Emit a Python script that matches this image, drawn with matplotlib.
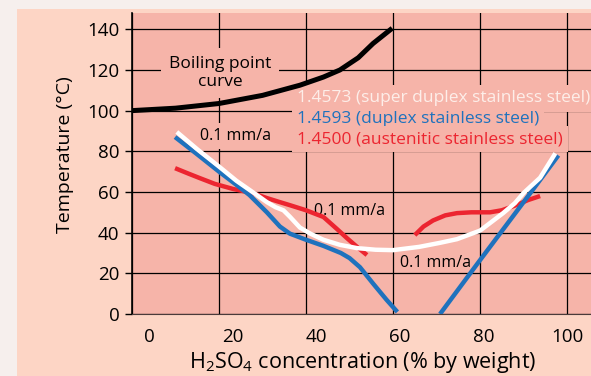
# Corrosion resistance of stainless steels in sulphuric acid (iso-corrosion 0.1 mm/a)
import matplotlib.pyplot as plt
import matplotlib.transforms as mtransforms
from matplotlib.patches import Rectangle

plt.rcParams['font.family'] = ['Open Sans', 'DejaVu Sans']
plt.rcParams['mathtext.default'] = 'regular'

# data
boil_x = [0, 10, 20, 30, 38.6, 44, 47.8, 52, 55.4, 59.8]
boil_y = [100, 101.2, 103.5, 107.5, 112.5, 116.5, 120, 126, 133, 140.5]

duplex_l_x = [9.9, 15, 20, 24, 27, 31, 34, 36.3, 40, 44, 48, 50, 52.4, 55.4, 58.5, 61]
duplex_l_y = [87, 78.5, 70, 63.5, 58.5, 50, 43, 39.5, 36.5, 33.5, 30, 27.5, 23, 15, 7, 1]
duplex_r_x = [70.8, 80, 90, 98]
duplex_r_y = [0, 26.5, 55, 78]

super_x = [10.3, 15, 20, 24, 28.7, 31, 33, 34.8, 36.3, 38.6, 41, 44, 47.8, 51.7, 56, 60,
           66, 70.8, 74.7, 80, 85.3, 88, 90, 93.8, 97.3]
super_y = [89.5, 81, 72.5, 65.5, 58.5, 55, 52.5, 51, 47.8, 42.5, 39.5, 36.5, 34, 32.4, 31.6, 31.4,
           33, 35, 36.8, 41, 49.6, 54.5, 59.5, 67, 79]

aust_l_x = [9.9, 13, 15.6, 19, 23.2, 27.8, 31, 34, 36.3, 40, 44, 47, 49.4, 52, 54]
aust_l_y = [71.7, 69, 66.8, 64, 61.5, 59.4, 57, 55, 53.5, 51, 47.7, 42, 37.3, 32.5, 29]
aust_r_x = [65, 67, 69.2, 72, 74.7, 78, 82.3, 85, 88.4, 91, 93.8]
aust_r_y = [38.8, 43, 46, 48.5, 49.6, 50, 50, 51, 53.6, 56, 58]

x_ticks = [0, 20, 40, 60, 80, 100]
y_ticks = [0, 20, 40, 60, 80, 100, 120, 140]

peach = '#fdd5c5'
salmon = '#f6b4a9'
blue = '#1f72bd'
red = '#ec2530'

fig = plt.figure(figsize=(5.91, 3.76), dpi=100, facecolor='#f6efed')
fig.patches.append(Rectangle((17 / 591, 0), 1, 1 - 9 / 376, transform=fig.transFigure,
                             facecolor=peach, edgecolor='none', zorder=-5))
ax = fig.add_axes([132 / 591, 62 / 376, 1 - 132 / 591, 301 / 376])
ax.set_zorder(2)
ax.set_facecolor(salmon)
ax.set_xlim(0, 105.5)
ax.set_ylim(0, 148)

ax.set_xticks(x_ticks)
ax.set_yticks(y_ticks)
ax.grid(True, color='black', linewidth=0.9)
ax.set_axisbelow(True)
for s in ['top', 'right']:
    ax.spines[s].set_visible(False)
ax.spines['left'].set_linewidth(1.2)
ax.spines['bottom'].set_color('#4a3a3a')
ax.tick_params(axis='y', length=5, width=1, pad=4, labelsize=13.5)
ax.tick_params(axis='x', length=0, pad=10, labelsize=13.5)

# x tick labels in the original sit a bit right of their grid lines
for lab, v in zip(ax.get_xticklabels(), x_ticks):
    off = mtransforms.ScaledTranslation(17 * (1 - v / 100) / 100, 0, fig.dpi_scale_trans)
    lab.set_transform(lab.get_transform() + off)

ax.set_xlabel(r'$H_2SO_4$ concentration (% by weight)', fontsize=15.5)
ax.xaxis.set_label_coords(0.503, -0.12)
ax.set_ylabel('Temperature (°C)', fontsize=14)
ax.yaxis.set_label_coords(-0.126, 0.53)

ax.plot(boil_x, boil_y, color='black', lw=3.6, solid_capstyle='butt', zorder=4)
ax.plot(aust_l_x, aust_l_y, color=red, lw=3.2, solid_capstyle='butt', zorder=4)
ax.plot(aust_r_x, aust_r_y, color=red, lw=3.2, solid_capstyle='butt', zorder=4)
ax.plot(duplex_l_x, duplex_l_y, color=blue, lw=3.2, solid_capstyle='butt', zorder=5)
ax.plot(duplex_r_x, duplex_r_y, color=blue, lw=3.2, solid_capstyle='butt', zorder=5)
ax.plot(super_x, super_y, color='white', lw=3.2, solid_capstyle='butt', zorder=6)

box = dict(boxstyle='square,pad=0.3', fc=salmon, ec='none')
ax.text(20.2, 118.5, 'Boiling point\ncurve', ha='center', va='center', fontsize=12.5,
        linespacing=1.15, bbox=dict(boxstyle='square,pad=0.45', fc=salmon, ec='none'), zorder=3)
ax.text(23.7, 87.5, '0.1 mm/a', ha='center', va='center', fontsize=11.5, bbox=box, zorder=3)
ax.text(50.1, 50.6, '0.1 mm/a', ha='center', va='center', fontsize=11.5, zorder=3)
ax.text(69.7, 25, '0.1 mm/a', ha='center', va='center', fontsize=11.5, zorder=3)

leg = [('1.4573 (super duplex stainless steel)', '#fdeee9', 106),
       ('1.4593 (duplex stainless steel)', blue, 96),
       ('1.4500 (austenitic stainless steel)', red, 86)]
for txt, c, yy in leg:
    ax.text(37.9, yy, txt, color=c, ha='left', va='center', fontsize=12.5, bbox=box,
            zorder=3, clip_on=False)

fig.savefig('out.png', dpi=100, facecolor=fig.get_facecolor())
